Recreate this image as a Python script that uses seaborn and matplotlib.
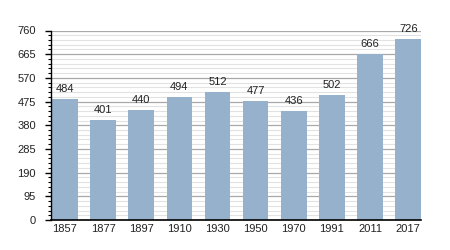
import matplotlib
matplotlib.use("Agg")
import matplotlib.pyplot as plt
import seaborn as sns
import pandas as pd
from matplotlib.ticker import MultipleLocator

years = ["1857", "1877", "1897", "1910", "1930", "1950", "1970", "1991", "2011", "2017"]
population = [484, 401, 440, 494, 512, 477, 436, 502, 666, 726]
yticks = [0, 95, 190, 285, 380, 475, 570, 665, 760]

df = pd.DataFrame({"year": years, "pop": population})

sns.set_theme(style="white")
plt.rcParams["font.family"] = ["Liberation Sans", "DejaVu Sans"]

fig = plt.figure(figsize=(4.5, 2.5), dpi=100)
ax = fig.add_axes([51 / 450, 30 / 250, 370 / 450, 189.5 / 250])

bw = 0.67
sns.barplot(data=df, x="year", y="pop", color="#95b1cc", saturation=1, width=bw,
            linewidth=0, edgecolor="none", ax=ax, zorder=3)

ax.set_ylim(0, 760)
ax.set_xlim(-bw / 2 - 0.03, len(years) - 1 + bw / 2)
ax.set_yticks(yticks)
ax.yaxis.set_minor_locator(MultipleLocator(19))
ax.grid(axis="y", which="major", color="#a8a8a8", linewidth=0.9, zorder=0)
ax.grid(axis="y", which="minor", color="#e2e2e2", linewidth=0.8, zorder=0)
ax.set_axisbelow(True)

for i, v in enumerate(population):
    ax.annotate(str(v), (i, v), xytext=(0, 3.5), textcoords="offset points",
                ha="center", va="bottom", fontsize=8, color="#222222", zorder=4)

ax.set_xlabel("")
ax.set_ylabel("")
for s in ["top", "right"]:
    ax.spines[s].set_visible(False)
for s in ["left", "bottom"]:
    ax.spines[s].set_color("black")
    ax.spines[s].set_zorder(5)
ax.spines["left"].set_linewidth(1)
ax.spines["bottom"].set_linewidth(1.2)
ax.tick_params(axis="y", which="major", left=True, length=4, width=1, color="black",
               labelsize=8, pad=7, labelcolor="#222222")
ax.tick_params(axis="y", which="minor", left=True, length=2.5, width=0.8, color="black")
ax.tick_params(axis="x", bottom=False, length=0, labelsize=8, pad=3, labelcolor="#222222")

fig.savefig("out.png", dpi=100)
